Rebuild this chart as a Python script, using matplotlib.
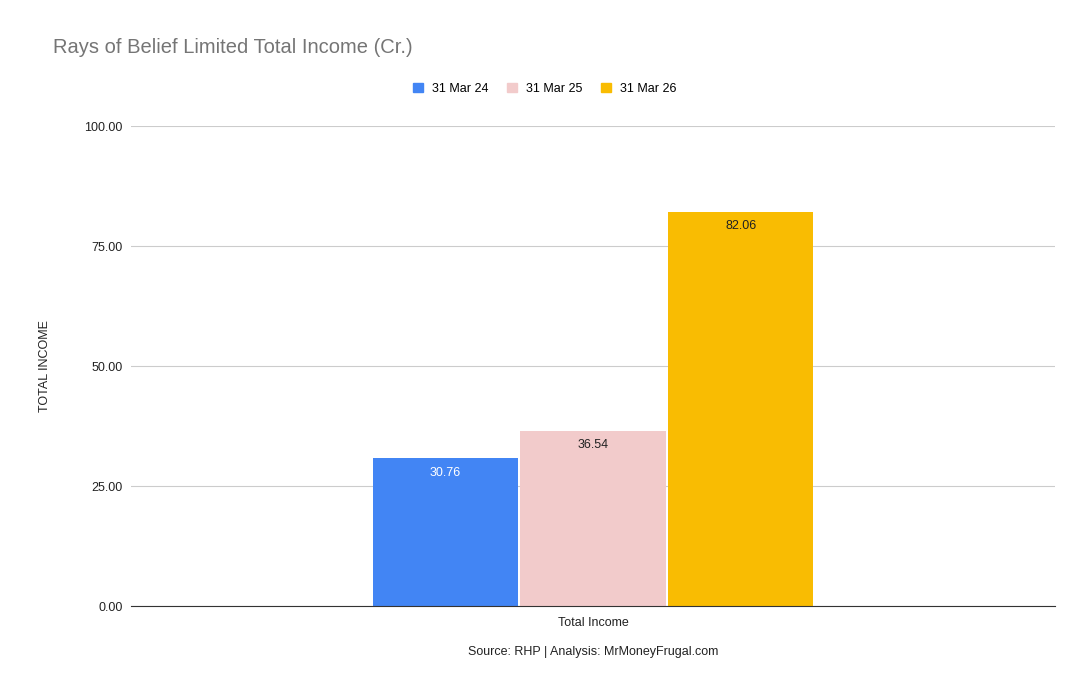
import matplotlib.pyplot as plt
from matplotlib.patches import Patch

plt.rcParams["font.family"] = ["Liberation Sans", "DejaVu Sans"]

periods = ["31 Mar 24", "31 Mar 25", "31 Mar 26"]
income = [30.76, 36.54, 82.06]
colors = ["#4285f4", "#f2cbcb", "#f9bc02"]
label_colors = ["white", "#222222", "#222222"]
yticks = [0, 25, 50, 75, 100]

fig = plt.figure(figsize=(10.9, 6.94), dpi=100)
ax = fig.add_axes([0.1202, 0.1268, 0.8477, 0.6916])

width = 0.157
offsets = [-0.160, 0.0, 0.160]
for off, val, col, lc in zip(offsets, income, colors, label_colors):
    ax.bar(off, val, width=width, color=col, zorder=3)
    ax.annotate(f"{val:.2f}", xy=(off, val), xytext=(0, -6), textcoords="offset points",
                ha="center", va="top", fontsize=9, color=lc, zorder=4)

ax.set_xlim(-0.5, 0.5)
ax.set_ylim(0, 100)
ax.set_yticks(yticks)
ax.set_yticklabels([f"{t:.2f}" for t in yticks], fontsize=9, color="#222222")
ax.set_xticks([0])
ax.set_xticklabels(["Total Income"], fontsize=9, color="#222222")
ax.tick_params(axis="y", length=0, pad=6)
ax.tick_params(axis="x", length=0, pad=8)
ax.grid(axis="y", color="#cccccc", linewidth=0.8, zorder=0)
for s in ["top", "right", "left"]:
    ax.spines[s].set_visible(False)
ax.spines["bottom"].set_color("#333333")
ax.spines["bottom"].set_zorder(5)

ax.set_ylabel("TOTAL INCOME", fontsize=9, color="#222222")
ax.yaxis.set_label_coords(-0.087, 0.5)

fig.text(0.049, 0.932, "Rays of Belief Limited Total Income (Cr.)", fontsize=14.5,
         color="#757575", va="center", ha="left")

handles = [Patch(facecolor=c, edgecolor=c) for c in colors]
fig.legend(handles, periods, loc="center", bbox_to_anchor=(0.5, 0.872), ncol=3,
           frameon=False, fontsize=9, handlelength=0.8, handleheight=0.8,
           columnspacing=1.5, handletextpad=0.7)

fig.text(0.544, 0.061, "Source: RHP | Analysis: MrMoneyFrugal.com", fontsize=9,
         color="#222222", ha="center", va="center")

fig.savefig("out.png", dpi=100)
